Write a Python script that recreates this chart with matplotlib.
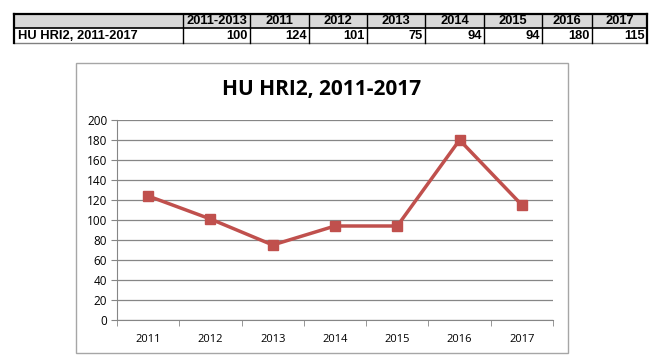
import matplotlib
matplotlib.use("Agg")
import matplotlib.pyplot as plt
from matplotlib.patches import Rectangle
from matplotlib.lines import Line2D

# ---- data ----
row_label = "HU HRI2, 2011-2017"
table_headers = ["2011-2013", "2011", "2012", "2013", "2014", "2015", "2016", "2017"]
table_values = [100, 124, 101, 75, 94, 94, 180, 115]
years = ["2011", "2012", "2013", "2014", "2015", "2016", "2017"]
values = [124, 101, 75, 94, 94, 180, 115]
y_ticks = list(range(0, 201, 20))
title = "HU HRI2, 2011-2017"

W, H = 660, 362
fig = plt.figure(figsize=(W / 100, H / 100), dpi=100)

def fx(x):
    return x / W

def fy(y):
    return 1 - y / H

# ---- table ----
col_edges = [14, 183, 250, 309, 367, 425, 484, 542, 592, 647]
y_top, y_mid, y_bot = 14, 28, 43
fig.add_artist(Rectangle((fx(14), fy(y_mid)), fx(647) - fx(14), fy(y_top) - fy(y_mid),
                         facecolor="#d9d9d9", edgecolor="none", transform=fig.transFigure))
for yy, lw, c in [(y_top, 1.6, "black"), (y_mid, 1.2, "black"), (y_bot, 1.0, "#808080")]:
    fig.add_artist(Line2D([fx(14), fx(647)], [fy(yy), fy(yy)], color=c, lw=lw, transform=fig.transFigure))
for i, xx in enumerate(col_edges):
    lw = 1.6 if i in (0, len(col_edges) - 1) else 1.0
    fig.add_artist(Line2D([fx(xx), fx(xx)], [fy(y_top), fy(y_bot)], color="black", lw=lw,
                          transform=fig.transFigure))
font_tab = dict(family="Liberation Sans", fontweight="bold", fontsize=9.3)
for i, h in enumerate(table_headers):
    cx = (col_edges[i + 1] + col_edges[i + 2]) / 2
    fig.text(fx(cx), fy((y_top + y_mid) / 2 + 0.5), h, ha="center", va="center", **font_tab)
fig.text(fx(18), fy((y_mid + y_bot) / 2 + 0.5), row_label, ha="left", va="center", **font_tab)
for i, v in enumerate(table_values):
    fig.text(fx(col_edges[i + 2] - 2), fy((y_mid + y_bot) / 2 + 0.5), str(v), ha="right", va="center", **font_tab)

# ---- chart border ----
fig.add_artist(Rectangle((fx(76), fy(353)), fx(568) - fx(76), fy(63) - fy(353),
                         facecolor="none", edgecolor="#a6a6a6", lw=1.0, transform=fig.transFigure))

fig.text(fx(322), fy(90), title, ha="center", va="center", fontsize=15, fontweight="bold",
         family="Open Sans", color="black")

# ---- plot ----
ax = fig.add_axes([fx(117), fy(320), fx(553) - fx(117), fy(120) - fy(320)])
x = list(range(len(years)))
ax.plot(x, values, color="#c0504d", lw=2.5, marker="s", markersize=7.5, zorder=3, clip_on=False)
ax.set_xlim(-0.5, len(years) - 0.5)
ax.set_ylim(0, 200)
ax.set_yticks(y_ticks)
ax.set_yticklabels([str(t) for t in y_ticks], family="Open Sans", fontsize=8.5)
ax.set_xticks(x)
ax.set_xticklabels(years, family="Open Sans", fontsize=8)
ax.tick_params(axis="x", length=0, pad=10)
ax.set_xticks([i - 0.5 for i in range(len(years) + 1)], minor=True)
ax.tick_params(axis="x", which="minor", length=4, color="#868686", direction="out")
ax.tick_params(axis="y", length=4, color="#868686", direction="out", pad=3)
ax.grid(axis="y", color="#868686", lw=0.9)
ax.set_axisbelow(True)
for s in ["top", "right"]:
    ax.spines[s].set_visible(False)
ax.spines["left"].set_color("#868686")
ax.spines["bottom"].set_color("#868686")

fig.savefig("out.png", dpi=100)
